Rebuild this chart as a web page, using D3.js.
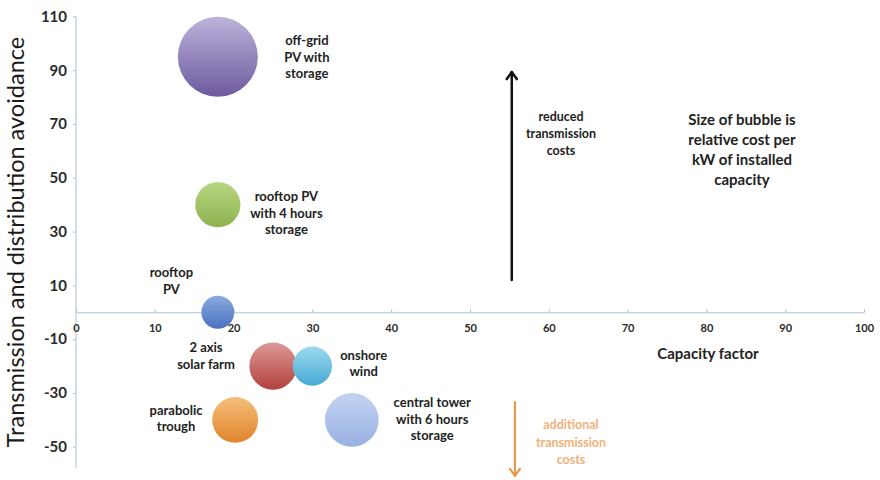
<!DOCTYPE html>
<html>
<head>
<meta charset="utf-8">
<script src="https://cdn.jsdelivr.net/npm/d3@7"></script>
<style>
  html, body { margin: 0; padding: 0; background: #fff; }
  svg { display: block; font-family: Lato, "Open Sans", sans-serif; }
</style>
</head>
<body>
<svg id="chart" width="880" height="480"></svg>
<script>
// Technologies plotted: capacity factor (%), T&D avoidance, relative cost per kW
const technologies = ["off-grid PV with storage", "rooftop PV with 4 hours storage", "rooftop PV",
                      "2 axis solar farm", "onshore wind", "parabolic trough", "central tower with 6 hours storage"];
const capacityFactor = [18, 18, 18, 25, 30, 20.2, 35];
const avoidance      = [95, 40, 0, -20, -20, -40, -40];
const relativeCost   = [100, 32, 17, 35, 24, 33, 45];
const bubbleLabels = [
  ["off-grid", "PV with", "storage"],
  ["rooftop PV", "with 4 hours", "storage"],
  ["rooftop", "PV"],
  ["2 axis", "solar farm"],
  ["onshore", "wind"],
  ["parabolic", "trough"],
  ["central tower", "with 6 hours", "storage"]
];
// label anchor in data units (centre x, first-line y)
const labelX = [29.3, 26.7, 12.1, 16.5, 36.5, 12.7, 45.2];
const labelY = [99.3, 41.2, 13, -14.9, -17.6, -38, -35.3];
const bubbleColors = [
  ["#bcb3da", "#6d5a9f"],
  ["#b8d683", "#8db24e"],
  ["#8aa9de", "#4a72bf"],
  ["#dc9a98", "#b3403d"],
  ["#9cd9ef", "#46a9d3"],
  ["#f6be7c", "#e0842a"],
  ["#c3d2f1", "#98b1e2"]
];
const xTicks = [0, 10, 20, 30, 40, 50, 60, 70, 80, 90, 100];
const yTicks = [-50, -30, -10, 10, 30, 50, 70, 90, 110];

const svg = d3.select("#chart");
const x = d3.scaleLinear().domain([0, 100]).range([76, 864]);
const y = d3.scaleLinear().domain([-58, 110]).range([468.3, 16.4]);
const r = d3.scaleSqrt().domain([0, 100]).range([0, 40]);

// gradients for the bubbles
const defs = svg.append("defs");
bubbleColors.forEach((c, i) => {
  const g = defs.append("linearGradient").attr("id", "bg" + i)
    .attr("x1", 0).attr("y1", 0).attr("x2", 0).attr("y2", 1);
  g.append("stop").attr("offset", "0%").attr("stop-color", c[0]);
  g.append("stop").attr("offset", "100%").attr("stop-color", c[1]);
});
defs.append("filter").attr("id", "soft").attr("x", "-20%").attr("y", "-20%").attr("width", "140%").attr("height", "140%")
  .append("feGaussianBlur").attr("stdDeviation", 0.6);

const axisColor = "#a9c2d8";
const plain = d => String(d);   // hyphen-minus labels

// y axis
const yAxis = svg.append("g").attr("transform", `translate(${x(0)},0)`)
  .call(d3.axisLeft(y).tickValues(yTicks).tickFormat(plain).tickSizeInner(3).tickSizeOuter(0).tickPadding(6));
yAxis.select(".domain").attr("stroke", axisColor).attr("d", `M0,${y(110)}V${y(-58)}`);
yAxis.selectAll(".tick line").attr("stroke", axisColor);
yAxis.selectAll(".tick text").attr("font-size", 15).attr("font-weight", 700).attr("fill", "#2a2a2a")
  .attr("font-family", "Lato, sans-serif");

// x axis on the zero line
const xAxis = svg.append("g").attr("transform", `translate(0,${y(0)})`)
  .call(d3.axisBottom(x).tickValues(xTicks).tickFormat(plain).tickSizeInner(-3).tickSizeOuter(0).tickPadding(12));
xAxis.select(".domain").attr("stroke", axisColor);
xAxis.selectAll(".tick line").attr("stroke", axisColor);
xAxis.selectAll(".tick text").attr("font-size", 11).attr("font-weight", 700).attr("fill", "#2a2a2a")
  .attr("font-family", "Lato, sans-serif");

// axis titles
svg.append("text")
  .attr("transform", `translate(24,${242}) rotate(-90)`)
  .attr("text-anchor", "middle")
  .attr("font-size", 23.5).attr("fill", "#1a1a1a")
  .text("Transmission and distribution avoidance");
svg.append("text")
  .attr("x", 708).attr("y", 359).attr("text-anchor", "middle")
  .attr("font-size", 15).attr("font-weight", 700).attr("fill", "#222")
  .text("Capacity factor");

// bubbles
const idx = d3.range(technologies.length);
svg.append("g").selectAll("circle").data(idx).join("circle")
  .attr("cx", i => x(capacityFactor[i]))
  .attr("cy", i => y(avoidance[i]))
  .attr("r", i => r(relativeCost[i]))
  .attr("fill", i => `url(#bg${i})`)
  .attr("filter", "url(#soft)");

// bubble labels
const lab = svg.append("g").attr("font-size", 13).attr("font-weight", 700).attr("fill", "#222")
  .attr("text-anchor", "middle");
idx.forEach(i => {
  const t = lab.append("text").attr("x", x(labelX[i])).attr("y", y(labelY[i]));
  bubbleLabels[i].forEach((line, k) => {
    t.append("tspan").attr("x", x(labelX[i])).attr("dy", k === 0 ? 0 : 16.5).text(line);
  });
});

// direction arrows
function arrow(xv, y0, y1, color, width) {
  const g = svg.append("g").attr("stroke", color).attr("stroke-width", width).attr("fill", "none")
    .attr("stroke-linecap", "round").attr("stroke-linejoin", "round");
  const xp = x(xv), ya = y(y0), yb = y(y1);
  const dir = yb < ya ? 1 : -1;
  g.append("path").attr("d", `M${xp},${ya}V${yb}`);
  g.append("path").attr("d", `M${xp - 5},${yb + dir * 7}L${xp},${yb}L${xp + 5},${yb + dir * 7}`);
}
arrow(55.3, 12, 89.3, "#111", 2.5);
arrow(55.7, -33.4, -60.8, "#e39a4a", 2.2);

// annotation texts
function block(cx, cy, lines, size, lh, color, weight) {
  const t = svg.append("text").attr("x", cx).attr("y", cy).attr("text-anchor", "middle")
    .attr("font-size", size).attr("fill", color).attr("font-weight", weight);
  lines.forEach((l, k) => t.append("tspan").attr("x", cx).attr("dy", k === 0 ? 0 : lh).text(l));
}
block(561, 121, ["reduced", "transmission", "costs"], 12.5, 17, "#222", 700);
block(742, 125, ["Size of bubble is", "relative cost per", "kW of installed", "capacity"], 15, 20, "#222", 700);
block(571, 429, ["additional", "transmission", "costs"], 12.5, 17.5, "#f0b27a", 700);
</script>
</body>
</html>
